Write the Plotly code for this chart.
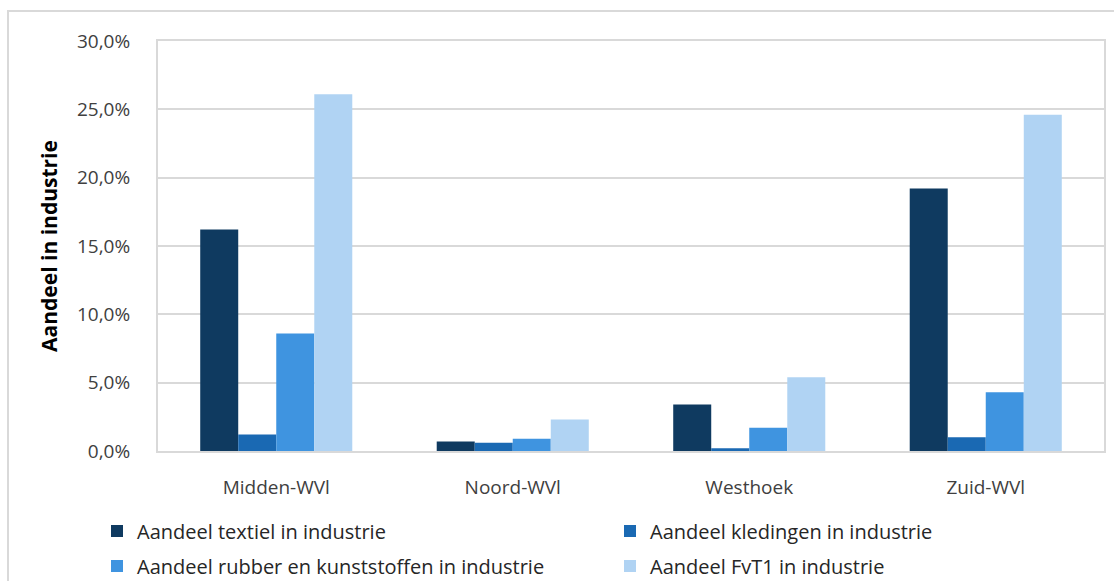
import plotly.graph_objects as go

regions = ["Midden-WVl", "Noord-WVl", "Westhoek", "Zuid-WVl"]
textiel = [0.162, 0.007, 0.034, 0.192]
kleding = [0.012, 0.006, 0.002, 0.010]
rubber = [0.086, 0.009, 0.017, 0.043]
fvt1 = [0.261, 0.023, 0.054, 0.246]

series = [
    ("Aandeel textiel in industrie", textiel, "#0f3a60", "legend"),
    ("Aandeel kledingen in industrie", kleding, "#1a69b3", "legend"),
    ("Aandeel rubber en kunststoffen in industrie", rubber, "#3f94e0", "legend2"),
    ("Aandeel FvT1 in industrie", fvt1, "#b0d3f3", "legend2"),
]

W, H = 1114, 581
L, R, T, B = 158, 10, 41, 130
pw, ph = W - L - R, H - T - B

def px(x):
    return (x - L) / pw

def py(y):
    return 1 - (y - T) / ph

font = "Open Sans"
fs = 19

fig = go.Figure()
for name, vals, color, leg in series:
    fig.add_trace(go.Bar(x=regions, y=vals, name=name, marker_color=color,
                         marker_line_width=0, legend=leg))

# two legends so the entries line up in two columns like the original
leg_common = dict(orientation="h", font=dict(family=font, size=20, color="#262626"),
                  entrywidth=468, itemwidth=30, yanchor="middle", xanchor="left",
                  bgcolor="rgba(0,0,0,0)", traceorder="normal")

fig.update_layout(
    width=W, height=H,
    margin=dict(l=L, r=R, t=T, b=B, autoexpand=False),
    paper_bgcolor="white", plot_bgcolor="white",
    barmode="group", bargap=0.357, bargroupgap=0,
    separators=",.",
    font=dict(family=font, size=fs, color="#404040"),
    legend=dict(x=px(97), y=py(531), **leg_common),
    legend2=dict(x=px(97), y=py(566), **leg_common),
    showlegend=True,
    xaxis=dict(showgrid=False, showline=True, linecolor="#d9d9d9", linewidth=2,
               mirror=True, ticks="", ticklabelstandoff=18,
               tickfont=dict(family=font, size=fs, color="#404040")),
    yaxis=dict(range=[0, 0.30], dtick=0.05, tickformat=".1%",
               showgrid=True, gridcolor="#d9d9d9", gridwidth=2,
               showline=True, linecolor="#d9d9d9", linewidth=2, mirror=True,
               zeroline=False, ticks="", ticklabelstandoff=22,
               tickfont=dict(family=font, size=fs, color="#404040"),
               title=dict(text="<b>Aandeel in industrie</b>", standoff=14,
                          font=dict(family=font, size=21, color="#000000"))),
    shapes=[dict(type="rect", xref="paper", yref="paper",
                 x0=px(8), x1=px(W + 20), y0=py(H + 20), y1=py(11),
                 line=dict(color="#d9d9d9", width=2), layer="below")],
)

fig.write_html("out.html", config={"displayModeBar": False},
               post_script="document.body.style.margin='0';")
